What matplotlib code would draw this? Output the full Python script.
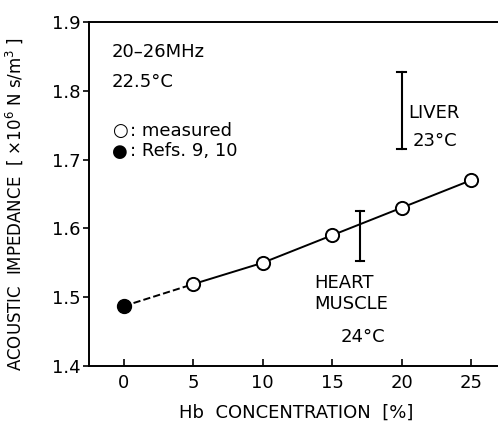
import matplotlib.pyplot as plt

plt.rcParams['font.family'] = ['DejaVu Sans']

# data
hb_measured = [5, 10, 15, 20, 25]
z_measured = [1.519, 1.55, 1.59, 1.63, 1.67]
hb_ref = [0]
z_ref = [1.487]

liver_x = 20
liver_range = [1.715, 1.828]
heart_x = 17
heart_range = [1.552, 1.625]

fs = 13

fig = plt.figure(figsize=(4.98, 4.24), dpi=100)
ax = fig.add_axes([89 / 498, 58 / 424, 1 - 89 / 498 + 0.01, 344 / 424])

# dashed line from ref point to first measured point
ax.plot([hb_ref[0], hb_measured[0]], [z_ref[0], z_measured[0]], '--', color='black', lw=1.4)
ax.plot(hb_measured, z_measured, '-', color='black', lw=1.4)
ax.plot(hb_measured, z_measured, 'o', mfc='white', mec='black', mew=1.4, ms=9.5)
ax.plot(hb_ref, z_ref, 'o', color='black', ms=10)

# liver / heart muscle ranges
for xx, rng in [(liver_x, liver_range), (heart_x, heart_range)]:
    ax.plot([xx, xx], rng, color='black', lw=1.5)
    for yy in rng:
        ax.plot([xx - 0.3, xx + 0.3], [yy, yy], color='black', lw=1.5)

ax.text(20.5, 1.768, 'LIVER', fontsize=fs, va='center', ha='left')
ax.text(22.4, 1.727, '23°C', fontsize=fs, va='center', ha='center')
ax.text(13.7, 1.52, 'HEART', fontsize=fs, va='center', ha='left')
ax.text(13.7, 1.49, 'MUSCLE', fontsize=fs, va='center', ha='left')
ax.text(17.2, 1.442, '24°C', fontsize=fs, va='center', ha='center')

ax.text(-0.9, 1.857, '20–26MHz', fontsize=fs, va='center')
ax.text(-0.9, 1.813, '22.5°C', fontsize=fs, va='center')
ax.text(-0.85, 1.741, '○', fontsize=13, va='center')
ax.text(0.45, 1.742, ': measured', fontsize=fs, va='center')
ax.text(-0.85, 1.711, '●', fontsize=13, va='center')
ax.text(0.45, 1.712, ': Refs. 9, 10', fontsize=fs, va='center')

ax.set_xlim(-2.5, 27.3)
ax.set_ylim(1.4, 1.9)
ax.set_xticks([0, 5, 10, 15, 20, 25])
ax.set_yticks([1.4, 1.5, 1.6, 1.7, 1.8, 1.9])
ax.set_yticklabels(['1.4', '1.5', '1.6', '1.7', '1.8', '1.9'])
ax.tick_params(axis='x', direction='in', length=5, width=1.2, labelsize=fs, pad=6)
ax.tick_params(axis='y', direction='out', length=4, width=1.2, labelsize=fs, pad=2)
ax.spines['right'].set_visible(False)
for s in ['left', 'bottom', 'top']:
    ax.spines[s].set_linewidth(1.4)

ax.set_xlabel('Hb  CONCENTRATION  [%]', fontsize=fs, labelpad=8)
ax.set_ylabel('ACOUSTIC  IMPEDANCE  [ $\\times$10$^6$ N s/m$^3$ ]', fontsize=12)
ax.yaxis.set_label_coords(-0.155, 0.47)

fig.savefig('out.png', dpi=100)
